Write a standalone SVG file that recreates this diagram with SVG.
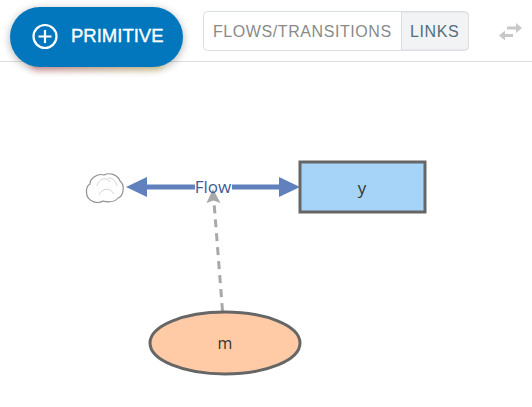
<svg xmlns="http://www.w3.org/2000/svg" width="532" height="407" viewBox="0 0 532 407">
<style>
text{font-family:"Open Sans","Liberation Sans",sans-serif}
.lbl{font-size:16px;fill:#333;text-anchor:middle}
.node{stroke:#666;stroke-width:3}
.flow{stroke:#6081bd;stroke-width:5;fill:none}
.tab{font-family:"Liberation Sans",Arial,sans-serif;font-size:16px;letter-spacing:.58px}
</style>
<defs>
<linearGradient id="glow" x1="0" x2="1" y1="0" y2="0"><stop offset="0" stop-color="#f06a7a"/><stop offset=".5" stop-color="#e8a878"/><stop offset="1" stop-color="#f0dc70"/></linearGradient>
<filter id="blur" x="-20%" y="-50%" width="140%" height="200%"><feGaussianBlur stdDeviation="4"/></filter>
<filter id="blur2" x="-20%" y="-50%" width="140%" height="200%"><feGaussianBlur stdDeviation="3"/></filter>
</defs>
<rect width="532" height="407" fill="#fff"/>
<g id="toolbar">
<rect x="0" y="61" width="532" height="1" fill="#dedede"/>
<rect x="30" y="56" width="134" height="14" rx="7" fill="url(#glow)" opacity=".6" filter="url(#blur2)"/>
<rect x="10" y="9" width="173" height="60" rx="30" fill="#000" opacity=".3" filter="url(#blur)"/>
<g id="primitive-button">
<rect x="10" y="7" width="173" height="60" rx="30" fill="#0277bd"/>
<circle cx="45" cy="36.500" r="11.500" fill="none" stroke="#fff" stroke-width="2.200"/>
<path d="M45 30v13M38.500 36.500h13" stroke="#fff" stroke-width="2.200" fill="none"/>
<text x="71" y="42" fill="#fff" stroke="#fff" stroke-width=".35" style="font-family:'Liberation Sans',Arial,sans-serif;font-size:18.500px">PRIMITIVE</text>
</g>
<g id="tabs">
<rect x="203.500" y="11.500" width="265" height="39" rx="4" fill="#fff" stroke="#dcdfe2"/>
<path d="M401.500 12h63a4 4 0 0 1 4 4v30a4 4 0 0 1-4 4h-63z" fill="#f1f3f5" stroke="#dcdfe2"/>
<text class="tab" x="213" y="37" fill="#8a8a8a">FLOWS/TRANSITIONS</text>
<text class="tab" x="410" y="37" fill="#546e7a">LINKS</text>
</g>
<g id="swap-icon" fill="#c8c8c8">
<path d="M507 26.500H516V23L522 28L516 33V29.500H507Z"/>
<path d="M513 34H505V30.500L499 35.500L505 40.500V37H513Z"/>
</g>
</g>
<g id="connectors">
<path class="flow" d="M143 187H195M232 187H284"/>
<path d="M126 187L147 177V197Z" fill="#6081bd"/>
<path d="M300 187L279 177V197Z" fill="#6081bd"/>
<path d="M222.500 311L214 202" fill="none" stroke="#a8a8a8" stroke-width="3" stroke-dasharray="8 6"/>
<path d="M213 189L220.500 203L213.500 200.500L206.500 203Z" fill="#a8a8a8"/>
</g>
<g id="cloud">
<path d="M92 201C85 198 85 187 90 184C90 178 98 173 104 175C110 172 118 175 120 181C125 185 124 196 118 198C114 203 106 202 103 201C100 203 95 203 92 201Z" fill="#fff" stroke="#8f8f8f" stroke-width="1.200"/>
<path d="M97 186C98 179 106 176 110 182M99 195C102 188 110 187 114 194M108 178C113 178 116 181 117 186" fill="none" stroke="#d4d4d4" stroke-width="1"/>
</g>
<g id="flow-label">
<text x="213" y="192.500" text-anchor="middle" fill="#3f5c99" style="font-size:17px">Flow</text>
</g>
<g id="node-y">
<rect class="node" x="300" y="162" width="125" height="50" fill="#a6d3f8"/>
<text class="lbl" x="362" y="194" style="font-size:17px">y</text>
</g>
<g id="node-m">
<ellipse class="node" cx="225" cy="343" rx="75" ry="31" fill="#ffcba6"/>
<text class="lbl" x="225" y="349">m</text>
</g>
</svg>
